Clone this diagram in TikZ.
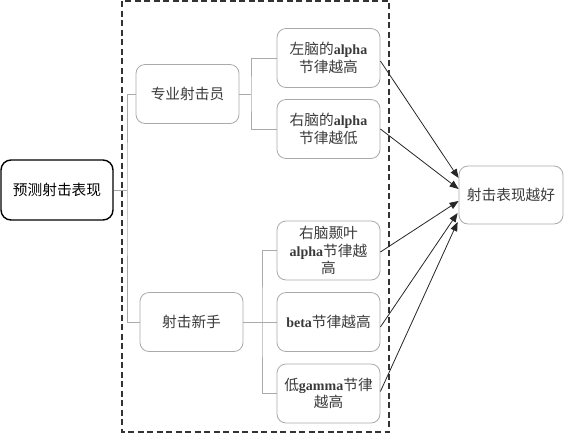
\documentclass[tikz,border=0pt]{standalone}
\usepackage{fontspec}
\setmainfont{Liberation Serif}
\newfontfamily\cjk{Noto Sans CJK SC}
\newcommand\zh[1]{{\cjk #1}}
\newcommand\lt[1]{{\fontsize{14pt}{17.5pt}\selectfont\bfseries #1}}
\usetikzlibrary{arrows.meta,calc}
\definecolor{boxgray}{HTML}{AAAAAA}
\definecolor{txtgray}{HTML}{3A3A3A}
\begin{document}
\begin{tikzpicture}[x=1pt,y=-1pt,
  every node/.style={font=\fontsize{14.7pt}{17.5pt}\selectfont, text=txtgray, align=center, inner sep=0pt},
  boxnode/.style={draw=boxgray, line width=0.8pt, rounded corners=9pt, minimum width=103pt, minimum height=59pt, text width=99pt},
  rootnode/.style={draw=black, line width=1.4pt, rounded corners=10pt, minimum width=112pt, minimum height=60pt, text=black},
  tree/.style={draw=boxgray, line width=0.8pt},
  arr/.style={draw=black!85, line width=0.8pt, -{Triangle[length=9pt,width=7pt]}},
  frame/.style={draw=black!80, line width=1.1pt, dash pattern=on 6pt off 3.5pt}]
\useasboundingbox (0,0) rectangle (567,440);
\draw[frame] (122,1) rectangle (389,432);
\node[rootnode] (root) at (57,190) {\zh{预测射击表现}};
\node[boxnode] (pro) at (187.5,94) {\zh{专业射击员}};
\node[boxnode] (nov) at (191.5,322) {\zh{射击新手}};
\node[boxnode] (l1) at (328.5,58) {\zh{左脑的}\lt{alpha}\\\zh{节律越高}};
\node[boxnode] (l2) at (328.5,129) {\zh{右脑的}\lt{alpha}\\\zh{节律越低}};
\node[boxnode] (l3) at (328.5,250.5) {\zh{右脑颞叶}\\\lt{alpha}\zh{节律越}\\\zh{高}};
\node[boxnode] (l4) at (328.5,322) {\lt{beta}\zh{节律越高}};
\node[boxnode] (l5) at (328.5,393.5) {\zh{低}\lt{gamma}\zh{节律}\\\zh{越高}};
\node[boxnode, minimum width=104pt, minimum height=58pt] (tgt) at (511,195) {\zh{射击表现越好}};
\coordinate (t1) at (127,190);
\coordinate (b1) at (251,94);
\coordinate (b2) at (262,322);
\draw[tree] (root.east) -- (t1);
\draw[tree] (pro.west) -| (t1) |- (nov.west);
\draw[tree] (pro.east) -- (b1);
\draw[tree] (l1.west) -| (b1) |- (l2.west);
\draw[tree] (l3.west) -| (b2) |- (l5.west);
\draw[tree] (nov.east) -- (l4.west);
\draw[arr] ([yshift=-3pt]l1.east) -- ([yshift=17pt]tgt.west);
\draw[arr] (l2.east) -- ([yshift=6pt]tgt.west);
\draw[arr] ([yshift=-1.5pt]l3.east) -- ([yshift=-6pt]tgt.west);
\draw[arr] ([yshift=-5pt]l4.east) -- ([yshift=-18pt,xshift=-1pt]tgt.west);
\draw[arr] ([yshift=2pt]l5.east) -- ([yshift=-27pt,xshift=-1pt]tgt.west);
\end{tikzpicture}
\end{document}
